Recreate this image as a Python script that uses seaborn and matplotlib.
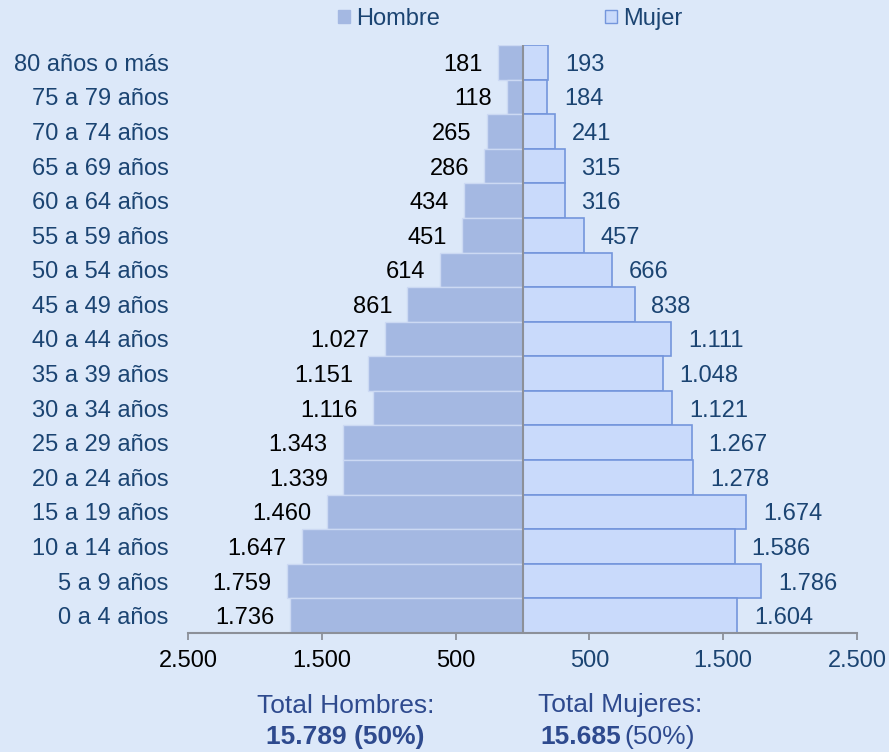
import matplotlib
matplotlib.use('Agg')
import matplotlib.pyplot as plt
from matplotlib.patches import Patch
import numpy as np
import pandas as pd
import seaborn as sns

# Datos de la pirámide (de arriba hacia abajo)
edades = ['80 años o más', '75 a 79 años', '70 a 74 años', '65 a 69 años',
          '60 a 64 años', '55 a 59 años', '50 a 54 años', '45 a 49 años',
          '40 a 44 años', '35 a 39 años', '30 a 34 años', '25 a 29 años',
          '20 a 24 años', '15 a 19 años', '10 a 14 años', '5 a 9 años',
          '0 a 4 años']
hombre = [181, 118, 265, 286, 434, 451, 614, 861, 1027, 1151, 1116, 1343,
          1339, 1460, 1647, 1759, 1736]
mujer = [193, 184, 241, 315, 316, 457, 666, 838, 1111, 1048, 1121, 1267,
         1278, 1674, 1586, 1786, 1604]
ticks = [-2500, -1500, -500, 500, 1500, 2500]
total_hombres = '15.789'
total_mujeres = '15.685'

bg = '#DCE8F9'
col_h = '#A4B8E2'
col_m = '#C9DAFB'
dark_blue = '#1B4472'
total_blue = '#2E4A8E'
fs = 17


def fmt(v):
    return f'{abs(v):,}'.replace(',', '.')


df = pd.DataFrame({
    'edad': edades * 2,
    'valor': [-v for v in hombre] + mujer,
    'sexo': ['Hombre'] * len(edades) + ['Mujer'] * len(edades),
})

sns.set_style('white')
plt.rcParams['font.family'] = ['Liberation Sans', 'DejaVu Sans']

fig = plt.figure(figsize=(8.89, 7.52), dpi=100, facecolor=bg)
ax = fig.add_axes([188 / 889, 1 - 633 / 752, 669 / 889, 588 / 752])
ax.set_facecolor(bg)

sns.barplot(data=df, x='valor', y='edad', hue='sexo', order=edades,
            palette={'Hombre': col_h, 'Mujer': col_m}, dodge=False,
            saturation=1, width=1.0, orient='h', ax=ax, legend=False)

for bar in ax.containers[0]:
    bar.set_edgecolor('#CCD9F3')
    bar.set_linewidth(1.0)
for bar in ax.containers[1]:
    bar.set_edgecolor('#7496DC')
    bar.set_linewidth(1.2)

lab_h = ax.bar_label(ax.containers[0], labels=[fmt(v) for v in hombre],
                     padding=11, fontsize=fs, color='black')
lab_m = ax.bar_label(ax.containers[1], labels=[fmt(v) for v in mujer],
                     padding=12, fontsize=fs, color=dark_blue)
# bajar ligeramente las etiquetas para centrarlas en la barra
for t in list(lab_h) + list(lab_m):
    t.set_va('center_baseline')

ax.set_xlim(-2500, 2500)
ax.set_ylim(len(edades) - 0.5, -0.5)
ax.axvline(0, color='#8C9099', lw=1.5, zorder=5)

ax.set_xticks(ticks)
ax.set_xticklabels([fmt(t) for t in ticks], fontsize=fs)
for lbl, t in zip(ax.get_xticklabels(), ticks):
    lbl.set_color('black' if t < 0 else dark_blue)
ax.tick_params(axis='x', length=5, width=1.3, color='#8C9099', pad=7,
               direction='out', bottom=True)
ax.tick_params(axis='y', length=0, pad=14, labelsize=fs, labelcolor=dark_blue)
ax.set_xlabel('')
ax.set_ylabel('')

for s in ['top', 'right', 'left']:
    ax.spines[s].set_visible(False)
ax.spines['bottom'].set_color('#8C9099')
ax.spines['bottom'].set_linewidth(1.5)

handles = [Patch(facecolor=col_h, edgecolor=col_h),
           Patch(facecolor=col_m, edgecolor='#7496DC')]
fig.legend(handles, ['Hombre', 'Mujer'], loc='center', ncol=2,
           bbox_to_anchor=(510 / 889, 1 - 19 / 752), frameon=False,
           fontsize=fs, labelcolor=dark_blue, handlelength=0.5,
           handleheight=0.5, handletextpad=0.25, columnspacing=7.0)

fig.text(346 / 889, 1 - 706 / 752, 'Total Hombres:', ha='center', va='center',
         fontsize=19, color=total_blue)
fig.text(345 / 889, 1 - 737 / 752, f'{total_hombres} (50%)', ha='center',
         va='center', fontsize=19, fontweight='bold', color=total_blue)
fig.text(620 / 889, 1 - 705 / 752, 'Total Mujeres:', ha='center', va='center',
         fontsize=19, color=total_blue)
t1 = fig.text(540 / 889, 1 - 737 / 752, total_mujeres, ha='left', va='center',
              fontsize=19, fontweight='bold', color=total_blue)
fig.canvas.draw()
bb = t1.get_window_extent()
fig.text(bb.x1 / fig.bbox.width + 0.004, 1 - 737 / 752, '(50%)', ha='left',
         va='center', fontsize=19, color=total_blue)

fig.savefig('out.png', dpi=100, facecolor=bg)
